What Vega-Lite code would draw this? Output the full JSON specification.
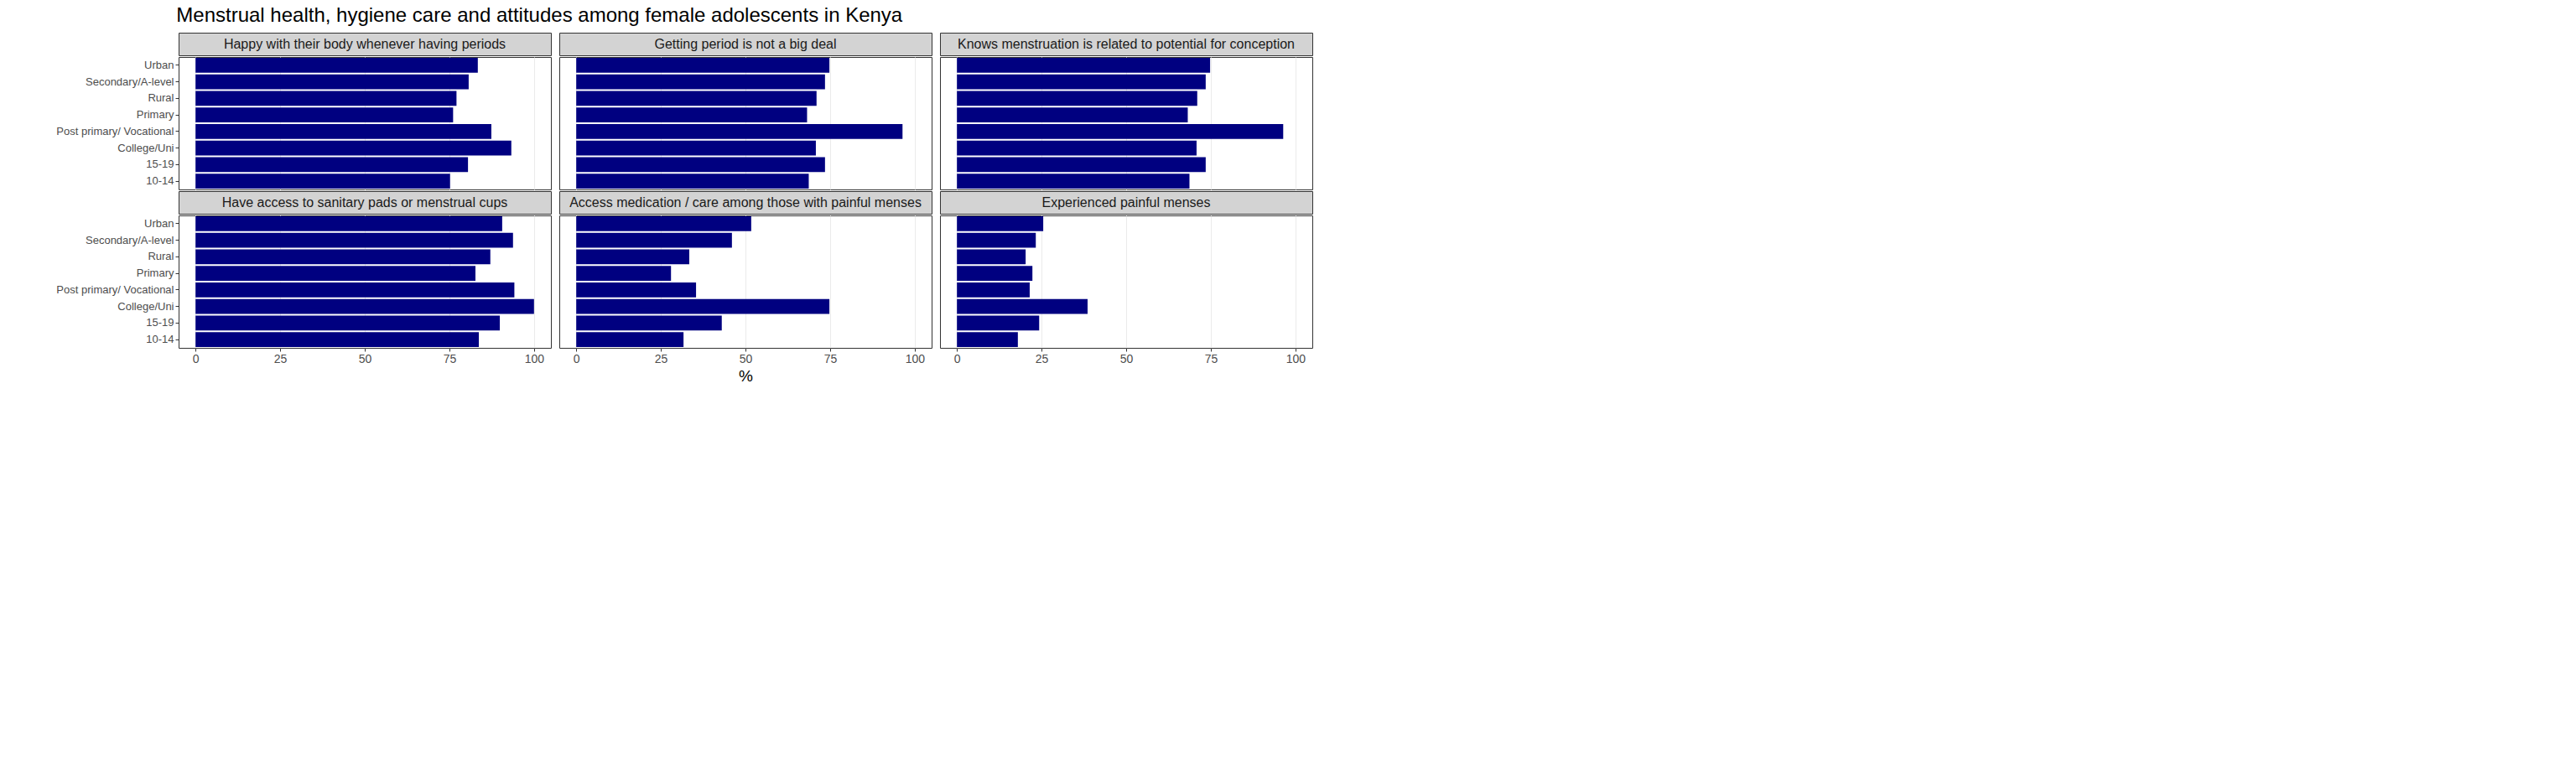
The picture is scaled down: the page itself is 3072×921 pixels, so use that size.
{
  "$schema": "https://vega.github.io/schema/vega-lite/v6.json",
  "title": {"text": "Menstrual health, hygiene care and attitudes among female adolescents in Kenya", "anchor": "start", "fontSize": 24, "fontWeight": "normal", "font": "Liberation Sans", "color": "#000000", "offset": 8, "dx": 144},
  "padding": {"left": 66, "top": 6, "right": 5, "bottom": 5},
  "config": {
    "font": "Liberation Sans",
    "view": {"stroke": "#333333"},
    "axis": {"labelFontSize": 14, "labelColor": "#4d4d4d", "gridColor": "#ebebeb", "tickColor": "#333333", "domain": false, "titleFontSize": 19, "titleFontWeight": "normal", "titleColor": "#000000"},
    "axisY": {"labelFontSize": 13},
    "concat": {"spacing": 8}
  },
  "datasets": {
    "d": [
      {"panel": "p1", "group": "Urban", "value": 83.4},
      {"panel": "p1", "group": "Secondary/A-level", "value": 80.7},
      {"panel": "p1", "group": "Rural", "value": 77.1},
      {"panel": "p1", "group": "Primary", "value": 76.1},
      {"panel": "p1", "group": "Post primary/ Vocational", "value": 87.4},
      {"panel": "p1", "group": "College/Uni", "value": 93.3},
      {"panel": "p1", "group": "15-19", "value": 80.5},
      {"panel": "p1", "group": "10-14", "value": 75.2},
      {"panel": "p2", "group": "Urban", "value": 74.8},
      {"panel": "p2", "group": "Secondary/A-level", "value": 73.5},
      {"panel": "p2", "group": "Rural", "value": 71.0},
      {"panel": "p2", "group": "Primary", "value": 68.2},
      {"panel": "p2", "group": "Post primary/ Vocational", "value": 96.4},
      {"panel": "p2", "group": "College/Uni", "value": 70.8},
      {"panel": "p2", "group": "15-19", "value": 73.5},
      {"panel": "p2", "group": "10-14", "value": 68.7},
      {"panel": "p3", "group": "Urban", "value": 74.8},
      {"panel": "p3", "group": "Secondary/A-level", "value": 73.5},
      {"panel": "p3", "group": "Rural", "value": 71.0},
      {"panel": "p3", "group": "Primary", "value": 68.2},
      {"panel": "p3", "group": "Post primary/ Vocational", "value": 96.4},
      {"panel": "p3", "group": "College/Uni", "value": 70.8},
      {"panel": "p3", "group": "15-19", "value": 73.5},
      {"panel": "p3", "group": "10-14", "value": 68.7},
      {"panel": "p4", "group": "Urban", "value": 90.6},
      {"panel": "p4", "group": "Secondary/A-level", "value": 93.8},
      {"panel": "p4", "group": "Rural", "value": 87.1},
      {"panel": "p4", "group": "Primary", "value": 82.7},
      {"panel": "p4", "group": "Post primary/ Vocational", "value": 94.2},
      {"panel": "p4", "group": "College/Uni", "value": 100},
      {"panel": "p4", "group": "15-19", "value": 89.9},
      {"panel": "p4", "group": "10-14", "value": 83.7},
      {"panel": "p5", "group": "Urban", "value": 51.7},
      {"panel": "p5", "group": "Secondary/A-level", "value": 46.0},
      {"panel": "p5", "group": "Rural", "value": 33.4},
      {"panel": "p5", "group": "Primary", "value": 28.0},
      {"panel": "p5", "group": "Post primary/ Vocational", "value": 35.4},
      {"panel": "p5", "group": "College/Uni", "value": 74.8},
      {"panel": "p5", "group": "15-19", "value": 43.0},
      {"panel": "p5", "group": "10-14", "value": 31.7},
      {"panel": "p6", "group": "Urban", "value": 25.5},
      {"panel": "p6", "group": "Secondary/A-level", "value": 23.3},
      {"panel": "p6", "group": "Rural", "value": 20.3},
      {"panel": "p6", "group": "Primary", "value": 22.3},
      {"panel": "p6", "group": "Post primary/ Vocational", "value": 21.5},
      {"panel": "p6", "group": "College/Uni", "value": 38.6},
      {"panel": "p6", "group": "15-19", "value": 24.3},
      {"panel": "p6", "group": "10-14", "value": 18.0}
    ]
  },
  "data": {"name": "d"},
  "spacing": 0,
  "vconcat": [
    {"hconcat": [
      {"spacing": 0, "vconcat": [
        {"data": {"values": [{"t": "Happy with their body whenever having periods"}]}, "width": 444, "height": 27, "view": {"fill": "#d3d3d3", "stroke": "#333333"}, "mark": {"type": "text", "fontSize": 16, "color": "#1a1a1a"}, "encoding": {"text": {"field": "t"}}},
        {"width": 444, "height": 158, "transform": [{"filter": {"field": "panel", "equal": "p1"}}], "mark": {"type": "bar", "color": "#000080"},
         "encoding": {
           "y": {"field": "group", "type": "nominal", "sort": ["Urban", "Secondary/A-level", "Rural", "Primary", "Post primary/ Vocational", "College/Uni", "15-19", "10-14"], "scale": {"paddingInner": 0.1, "paddingOuter": 0.05}, "axis": {"title": null, "tickSize": 4}},
           "x": {"field": "value", "type": "quantitative", "scale": {"domain": [-5, 105], "nice": false}, "axis": {"values": [0, 25, 50, 75, 100], "labels": false, "ticks": false, "title": null}}
         }}
      ]},
      {"spacing": 0, "vconcat": [
        {"data": {"values": [{"t": "Getting period is not a big deal"}]}, "width": 444, "height": 27, "view": {"fill": "#d3d3d3", "stroke": "#333333"}, "mark": {"type": "text", "fontSize": 16, "color": "#1a1a1a"}, "encoding": {"text": {"field": "t"}}},
        {"width": 444, "height": 158, "transform": [{"filter": {"field": "panel", "equal": "p2"}}], "mark": {"type": "bar", "color": "#000080"},
         "encoding": {
           "y": {"field": "group", "type": "nominal", "sort": ["Urban", "Secondary/A-level", "Rural", "Primary", "Post primary/ Vocational", "College/Uni", "15-19", "10-14"], "scale": {"paddingInner": 0.1, "paddingOuter": 0.05}, "axis": {"title": null, "labels": false, "ticks": false}},
           "x": {"field": "value", "type": "quantitative", "scale": {"domain": [-5, 105], "nice": false}, "axis": {"values": [0, 25, 50, 75, 100], "labels": false, "ticks": false, "title": null}}
         }}
      ]},
      {"spacing": 0, "vconcat": [
        {"data": {"values": [{"t": "Knows  menstruation is related to potential for conception"}]}, "width": 444, "height": 27, "view": {"fill": "#d3d3d3", "stroke": "#333333"}, "mark": {"type": "text", "fontSize": 16, "color": "#1a1a1a"}, "encoding": {"text": {"field": "t"}}},
        {"width": 444, "height": 158, "transform": [{"filter": {"field": "panel", "equal": "p3"}}], "mark": {"type": "bar", "color": "#000080"},
         "encoding": {
           "y": {"field": "group", "type": "nominal", "sort": ["Urban", "Secondary/A-level", "Rural", "Primary", "Post primary/ Vocational", "College/Uni", "15-19", "10-14"], "scale": {"paddingInner": 0.1, "paddingOuter": 0.05}, "axis": {"title": null, "labels": false, "ticks": false}},
           "x": {"field": "value", "type": "quantitative", "scale": {"domain": [-5, 105], "nice": false}, "axis": {"values": [0, 25, 50, 75, 100], "labels": false, "ticks": false, "title": null}}
         }}
      ]}
    ]},
    {"hconcat": [
      {"spacing": 0, "vconcat": [
        {"data": {"values": [{"t": "Have access to sanitary pads or menstrual cups"}]}, "width": 444, "height": 27, "view": {"fill": "#d3d3d3", "stroke": "#333333"}, "mark": {"type": "text", "fontSize": 16, "color": "#1a1a1a"}, "encoding": {"text": {"field": "t"}}},
        {"width": 444, "height": 158, "transform": [{"filter": {"field": "panel", "equal": "p4"}}], "mark": {"type": "bar", "color": "#000080"},
         "encoding": {
           "y": {"field": "group", "type": "nominal", "sort": ["Urban", "Secondary/A-level", "Rural", "Primary", "Post primary/ Vocational", "College/Uni", "15-19", "10-14"], "scale": {"paddingInner": 0.1, "paddingOuter": 0.05}, "axis": {"title": null, "tickSize": 4}},
           "x": {"field": "value", "type": "quantitative", "scale": {"domain": [-5, 105], "nice": false}, "axis": {"values": [0, 25, 50, 75, 100], "tickSize": 4, "title": null}}
         }}
      ]},
      {"spacing": 0, "vconcat": [
        {"data": {"values": [{"t": "Access medication / care among those with painful menses"}]}, "width": 444, "height": 27, "view": {"fill": "#d3d3d3", "stroke": "#333333"}, "mark": {"type": "text", "fontSize": 16, "color": "#1a1a1a"}, "encoding": {"text": {"field": "t"}}},
        {"width": 444, "height": 158, "transform": [{"filter": {"field": "panel", "equal": "p5"}}], "mark": {"type": "bar", "color": "#000080"},
         "encoding": {
           "y": {"field": "group", "type": "nominal", "sort": ["Urban", "Secondary/A-level", "Rural", "Primary", "Post primary/ Vocational", "College/Uni", "15-19", "10-14"], "scale": {"paddingInner": 0.1, "paddingOuter": 0.05}, "axis": {"title": null, "labels": false, "ticks": false}},
           "x": {"field": "value", "type": "quantitative", "scale": {"domain": [-5, 105], "nice": false}, "axis": {"values": [0, 25, 50, 75, 100], "tickSize": 4, "title": "%", "titlePadding": 4}}
         }}
      ]},
      {"spacing": 0, "vconcat": [
        {"data": {"values": [{"t": "Experienced painful menses"}]}, "width": 444, "height": 27, "view": {"fill": "#d3d3d3", "stroke": "#333333"}, "mark": {"type": "text", "fontSize": 16, "color": "#1a1a1a"}, "encoding": {"text": {"field": "t"}}},
        {"width": 444, "height": 158, "transform": [{"filter": {"field": "panel", "equal": "p6"}}], "mark": {"type": "bar", "color": "#000080"},
         "encoding": {
           "y": {"field": "group", "type": "nominal", "sort": ["Urban", "Secondary/A-level", "Rural", "Primary", "Post primary/ Vocational", "College/Uni", "15-19", "10-14"], "scale": {"paddingInner": 0.1, "paddingOuter": 0.05}, "axis": {"title": null, "labels": false, "ticks": false}},
           "x": {"field": "value", "type": "quantitative", "scale": {"domain": [-5, 105], "nice": false}, "axis": {"values": [0, 25, 50, 75, 100], "tickSize": 4, "title": null}}
         }}
      ]}
    ]}
  ]
}
